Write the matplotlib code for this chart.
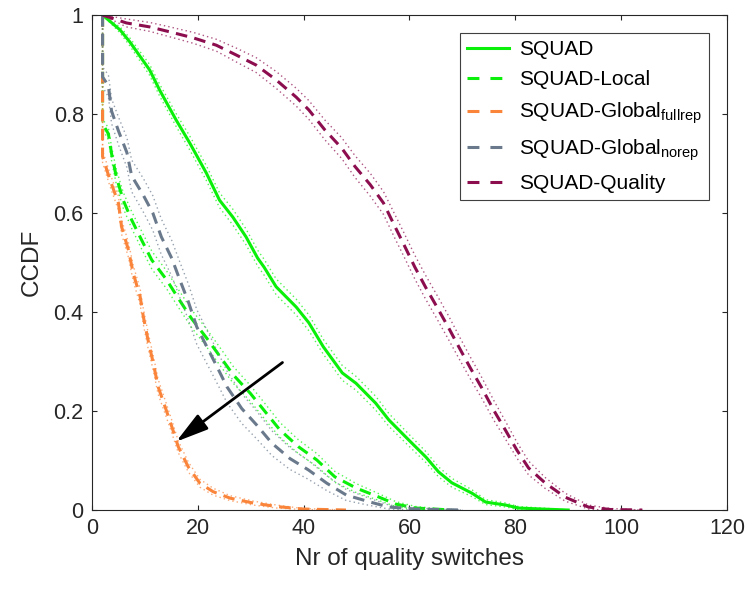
import matplotlib
matplotlib.use("Agg")
import matplotlib.pyplot as plt
from matplotlib.lines import Line2D
import numpy as np

plt.rcParams["font.family"] = ["Liberation Sans", "DejaVu Sans"]
plt.rcParams["mathtext.fontset"] = "custom"
plt.rcParams["mathtext.rm"] = "Liberation Sans"
plt.rcParams["mathtext.it"] = "Liberation Sans"

TXT = "#262626"

# ── data (x: nr of switches, y: CCDF, ci: half-width of band) ──
squad_x = [2, 5.3, 7.2, 10.9, 12.8, 15.9, 18.5, 21.6, 24.1, 26.6, 29.1, 31.3, 32.5, 34.8,
           38.6, 41, 43.7, 47.3, 49.9, 53.6, 56.1, 59.9, 63.1, 65.5, 68, 71.8, 74.4, 78.2,
           80.6, 85, 90]
squad_y = [1, 0.97, 0.945, 0.889, 0.848, 0.788, 0.741, 0.681, 0.626, 0.592, 0.552, 0.509,
           0.491, 0.451, 0.41, 0.378, 0.33, 0.277, 0.256, 0.216, 0.182, 0.141, 0.107, 0.077,
           0.055, 0.034, 0.016, 0.01, 0.004, 0.002, 0]
squad_ci = [0, 0.006, 0.008, 0.011, 0.012, 0.013, 0.014, 0.015, 0.015, 0.016, 0.016, 0.016,
            0.016, 0.016, 0.016, 0.016, 0.015, 0.015, 0.014, 0.014, 0.013, 0.012, 0.011,
            0.01, 0.009, 0.007, 0.005, 0.004, 0.003, 0.002, 0]

local_x = [2, 2, 3.1, 3.7, 4.6, 5.9, 7.5, 9.4, 11.3, 14.1, 16.3, 18.8, 21.7, 24.2, 26.7,
           29.9, 32.7, 35.5, 39, 42.5, 45.9, 50, 53.8, 57.4, 61.2, 68]
local_y = [1, 0.78, 0.76, 0.72, 0.673, 0.626, 0.586, 0.545, 0.505, 0.465, 0.428, 0.387,
           0.347, 0.31, 0.273, 0.236, 0.199, 0.162, 0.128, 0.101, 0.067, 0.044, 0.028,
           0.012, 0.004, 0]
local_ci = [0, 0.01, 0.012, 0.014, 0.015, 0.016, 0.017, 0.018, 0.018, 0.018, 0.018, 0.018,
            0.018, 0.018, 0.017, 0.016, 0.016, 0.015, 0.014, 0.013, 0.011, 0.009, 0.007,
            0.005, 0.003, 0]

full_x = [2, 2, 3.4, 5, 5.6, 6.9, 7.8, 9.1, 9.7, 10.6, 11.6, 12.5, 13.8, 15.1, 16.3, 18.2,
          20.4, 22.9, 26.1, 30.5, 34.9, 39.9, 48]
full_y = [1, 0.714, 0.667, 0.62, 0.572, 0.525, 0.478, 0.431, 0.391, 0.343, 0.296, 0.249,
          0.209, 0.168, 0.128, 0.087, 0.054, 0.037, 0.024, 0.014, 0.007, 0.002, 0]
full_ci = [0, 0.012, 0.013, 0.014, 0.015, 0.015, 0.016, 0.016, 0.016, 0.016, 0.015, 0.015,
           0.014, 0.013, 0.012, 0.01, 0.008, 0.007, 0.005, 0.004, 0.003, 0.001, 0]

norep_x = [2, 2, 3.1, 3.7, 5, 6.6, 7.5, 9.7, 11.5, 13.1, 15.1, 16.6, 18.2, 19.8, 21.7, 23.6,
           25.5, 28.3, 31.1, 34, 37.4, 40.9, 44.4, 48.1, 52.6, 56.1, 61.2, 70]
norep_y = [1, 0.875, 0.857, 0.806, 0.766, 0.722, 0.675, 0.636, 0.6, 0.552, 0.508, 0.465,
           0.421, 0.37, 0.33, 0.29, 0.249, 0.205, 0.172, 0.135, 0.104, 0.081, 0.054, 0.03,
           0.016, 0.006, 0.002, 0]
norep_ci = [0, 0.02, 0.022, 0.025, 0.028, 0.03, 0.032, 0.034, 0.035, 0.036, 0.036, 0.036,
            0.036, 0.035, 0.034, 0.033, 0.032, 0.03, 0.028, 0.025, 0.022, 0.019, 0.015,
            0.011, 0.007, 0.004, 0.002, 0]

quality_x = [2, 6.5, 10.9, 14.7, 19.1, 23.5, 27.3, 31, 34.8, 38.6, 41, 44, 47.2, 49.7, 52.6,
             55.1, 57.1, 59, 61, 63, 65.2, 67.4, 69.3, 71.5, 73.7, 75.9, 78.1, 80.3, 82.5,
             85.6, 89.4, 93.8, 98, 104]
quality_y = [1, 0.984, 0.976, 0.966, 0.954, 0.939, 0.919, 0.899, 0.869, 0.834, 0.808, 0.768,
             0.731, 0.694, 0.657, 0.62, 0.576, 0.535, 0.491, 0.451, 0.41, 0.368, 0.33, 0.287,
             0.246, 0.202, 0.162, 0.121, 0.085, 0.055, 0.026, 0.006, 0.001, 0]
quality_ci = [0, 0.008, 0.009, 0.01, 0.011, 0.012, 0.014, 0.015, 0.017, 0.018, 0.019, 0.02,
              0.021, 0.022, 0.023, 0.023, 0.024, 0.024, 0.024, 0.024, 0.024, 0.024, 0.023,
              0.022, 0.021, 0.02, 0.018, 0.016, 0.014, 0.011, 0.008, 0.004, 0.002, 0]

labels = ["SQUAD", "SQUAD-Local", r"SQUAD-Global$_{\mathrm{fullrep}}$",
          r"SQUAD-Global$_{\mathrm{norep}}$", "SQUAD-Quality"]

series = [
    (squad_x, squad_y, squad_ci, "#0AF00A", "-"),
    (local_x, local_y, local_ci, "#0AF00A", "--"),
    (full_x, full_y, full_ci, "#F9843A", "--"),
    (norep_x, norep_y, norep_ci, "#6A7A8C", "--"),
    (quality_x, quality_y, quality_ci, "#8C0E4F", "--"),
]

LW = 2.2
fig = plt.figure(figsize=(7.49, 5.89), dpi=100)
ax = fig.add_axes([0.1228, 0.1341, 0.8478, 0.8404])

handles = []
for (x, y, ci, col, ls), lab in zip(series, labels):
    x = np.asarray(x)
    y = np.asarray(y)
    ci = np.asarray(ci)
    for band in (y + ci, y - ci):
        ax.plot(x, band, color=col, lw=1.0, alpha=0.7, linestyle=(0, (1, 2.2)))
    if ls == "-":
        ax.plot(x, y, color=col, lw=LW)
        handles.append(Line2D([], [], color=col, lw=LW))
    else:
        ax.plot(x, y, color=col, lw=LW, linestyle=(0, (3.8, 2.4)))
        # legend sample: two long dashes like the original
        handles.append(Line2D([], [], color=col, lw=LW, linestyle=(0, (3.9, 3.6))))

# arrow marking the improvement
ax.annotate("", xy=(15.9, 0.138), xytext=(36.0, 0.298),
            arrowprops=dict(arrowstyle="-|>,head_length=0.9,head_width=0.25",
                            color="black", lw=2.0, mutation_scale=22,
                            shrinkA=0, shrinkB=0))

ax.set_xlim(0, 120)
ax.set_ylim(0, 1)
ax.set_xticks([0, 20, 40, 60, 80, 100, 120])
ax.set_yticks([0, 0.2, 0.4, 0.6, 0.8, 1])
ax.set_yticklabels(["0", "0.2", "0.4", "0.6", "0.8", "1"])
ax.tick_params(direction="in", top=True, right=True, length=3.5, width=0.8,
               labelsize=15.5, colors=TXT, pad=6)
for sp in ax.spines.values():
    sp.set_color(TXT)
    sp.set_linewidth(0.8)

ax.set_xlabel("Nr of quality switches", fontsize=17.5, color=TXT, labelpad=6)
ax.set_ylabel("CCDF", fontsize=17.5, color=TXT, labelpad=8)

leg = ax.legend(handles=handles, labels=labels, loc="upper right",
                bbox_to_anchor=(0.972, 0.964),
                borderaxespad=0, fontsize=15, frameon=True, fancybox=False,
                framealpha=1, edgecolor="#404040", handlelength=2.0,
                labelspacing=0.54, handletextpad=0.5, borderpad=0.35)
leg.get_frame().set_linewidth(0.8)
for t in leg.get_texts():
    t.set_color("black")

fig.savefig("out.png", dpi=100, facecolor="white")
